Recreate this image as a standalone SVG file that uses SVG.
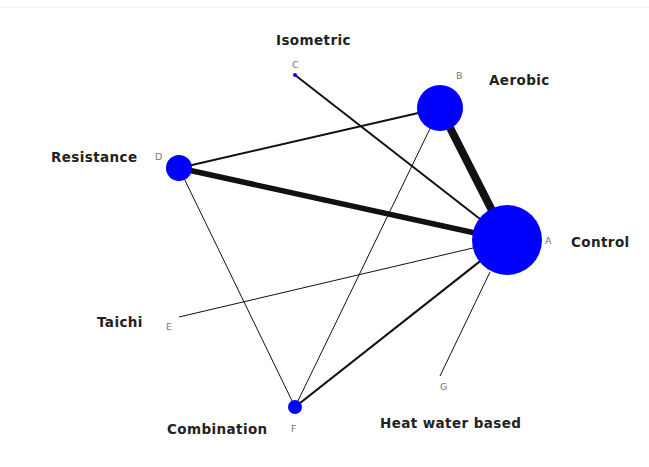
<svg xmlns="http://www.w3.org/2000/svg" width="649" height="467" viewBox="0 0 649 467">
<style>
.lbl{font-family:"DejaVu Sans","Liberation Sans",sans-serif;font-size:13.5px;font-weight:bold;fill:#222;letter-spacing:0.4px}
.id{font-family:"DejaVu Sans","Liberation Sans",sans-serif;font-size:9.5px;fill:#777}
.node{fill:#0000ff}
.e{stroke:#111;fill:none;stroke-linecap:butt}
</style>
<rect width="649" height="467" fill="#fff"/>
<line x1="0" y1="7" x2="649" y2="7" stroke="#eeeeee" stroke-width="1"/>
<g id="edges">
<line class="e" x1="507" y1="240" x2="440" y2="108" stroke-width="8"/>
<line class="e" x1="507" y1="240" x2="179" y2="168" stroke-width="5.5"/>
<line class="e" x1="507" y1="240" x2="295" y2="75" stroke-width="2"/>
<line class="e" x1="507" y1="240" x2="179" y2="317" stroke-width="1" stroke="#444"/>
<line class="e" x1="507" y1="240" x2="295" y2="407" stroke-width="2.2"/>
<line class="e" x1="490" y1="272" x2="440" y2="376" stroke-width="1" stroke="#444"/>
<line class="e" x1="440" y1="108" x2="179" y2="168" stroke-width="2"/>
<line class="e" x1="440" y1="108" x2="295" y2="407" stroke-width="1" stroke="#444"/>
<line class="e" x1="179" y1="168" x2="295" y2="407" stroke-width="1" stroke="#444"/>
</g>
<g id="A"><circle class="node" cx="507" cy="240" r="35"/><text class="id" x="545" y="244">A</text><text class="lbl" x="571" y="247">Control</text></g>
<g id="B"><circle class="node" cx="440" cy="108" r="23"/><text class="id" x="456" y="79">B</text><text class="lbl" x="489" y="85">Aerobic</text></g>
<g id="C"><circle class="node" cx="295" cy="75" r="2"/><text class="id" x="292" y="68">C</text><text class="lbl" x="276" y="45">Isometric</text></g>
<g id="D"><circle class="node" cx="179" cy="168" r="13"/><text class="id" x="155" y="160">D</text><text class="lbl" x="51" y="162">Resistance</text></g>
<g id="E"><text class="id" x="166" y="330">E</text><text class="lbl" x="97" y="327">Taichi</text></g>
<g id="F"><circle class="node" cx="295" cy="407" r="7"/><text class="id" x="291" y="432">F</text><text class="lbl" x="167" y="434">Combination</text></g>
<g id="G"><text class="id" x="440" y="390">G</text><text class="lbl" x="380" y="428">Heat water based</text></g>
</svg>
